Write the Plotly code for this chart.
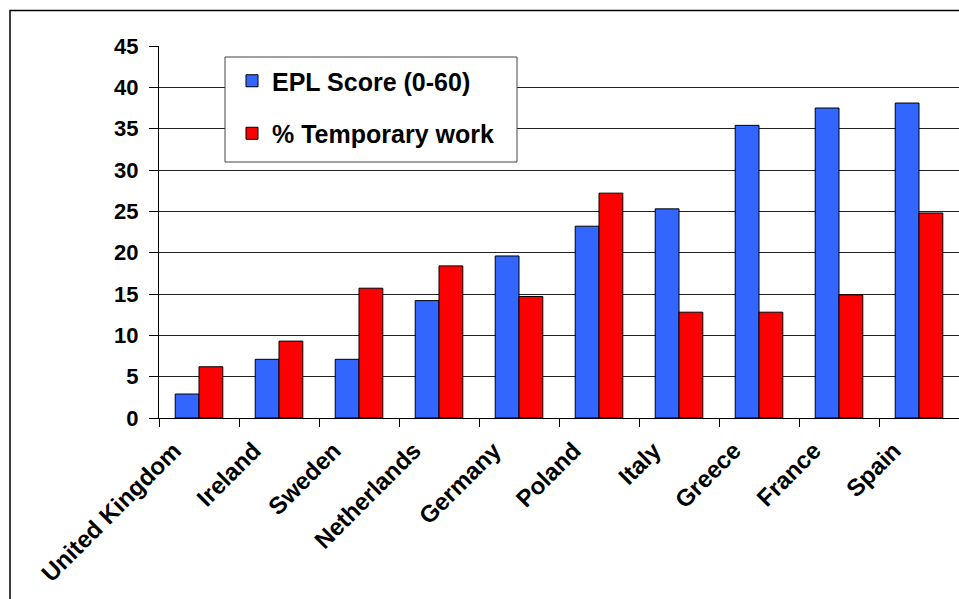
import plotly.graph_objects as go

countries = ["United Kingdom", "Ireland", "Sweden", "Netherlands", "Germany",
             "Poland", "Italy", "Greece", "France", "Spain"]
epl_score = [2.9, 7.1, 7.1, 14.2, 19.6, 23.2, 25.3, 35.4, 37.5, 38.1]
temp_work = [6.2, 9.3, 15.7, 18.4, 14.7, 27.2, 12.8, 12.8, 14.9, 24.8]
y_ticks = [0, 5, 10, 15, 20, 25, 30, 35, 40, 45]

FONT = "Liberation Sans, Arial, sans-serif"
PW, Y0PX, PH = 800, 418, 372

fig = go.Figure()
fig.add_trace(go.Bar(x=countries, y=epl_score, name="EPL Score (0-60)",
                     legendgroup="a",
                     marker=dict(color="#3366FF", line=dict(color="#000000", width=1))))
fig.add_trace(go.Bar(x=countries, y=temp_work, name="% Temporary work",
                     legendgroup="b",
                     marker=dict(color="#FF0000", line=dict(color="#000000", width=1))))

fig.update_layout(
    width=959, height=599,
    margin=dict(l=159, r=0, t=46, b=181),
    paper_bgcolor="white", plot_bgcolor="white",
    barmode="group", bargap=0.405, bargroupgap=0,
    font=dict(family=FONT, color="black"),
    legend=dict(x=(232 - 159) / PW, y=(Y0PX - 58) / PH, xanchor="left", yanchor="top",
                bgcolor="rgba(0,0,0,0)", borderwidth=0,
                font=dict(size=25, family=FONT, color="black", weight="bold"),
                traceorder="grouped", tracegroupgap=17,
                itemwidth=30),
    xaxis=dict(type="category", tickangle=-45, showline=True, linecolor="black",
               linewidth=1, ticks="outside", ticklen=8, tickcolor="black",
               tickson="boundaries", showgrid=False,
               ticklabelshift=-25, ticklabelstandoff=8,
               tickfont=dict(size=24, family=FONT, color="black", weight="bold")),
    yaxis=dict(range=[0, 45], tickvals=y_ticks, showline=True, linecolor="black",
               linewidth=1, ticks="outside", ticklen=9, tickcolor="black",
               ticklabelstandoff=6,
               showgrid=True, gridcolor="#222222", gridwidth=1,
               tickfont=dict(size=22, family=FONT, color="black", weight="bold"),
               zeroline=False),
    shapes=[
        dict(type="rect", xref="paper", yref="paper",
             x0=(10 - 159) / PW, x1=1.02, y0=-1.0, y1=(Y0PX - 10.5) / PH,
             line=dict(color="black", width=1.5), layer="below"),
        dict(type="rect", xref="paper", yref="paper",
             x0=(225 - 159) / PW, x1=(517 - 159) / PW,
             y0=(Y0PX - 162) / PH, y1=(Y0PX - 57) / PH,
             fillcolor="white", line=dict(color="#444444", width=1), layer="above"),
    ],
)

fig.write_html("out.html", config={"displayModeBar": False},
               post_script="document.body.style.margin='0';")
